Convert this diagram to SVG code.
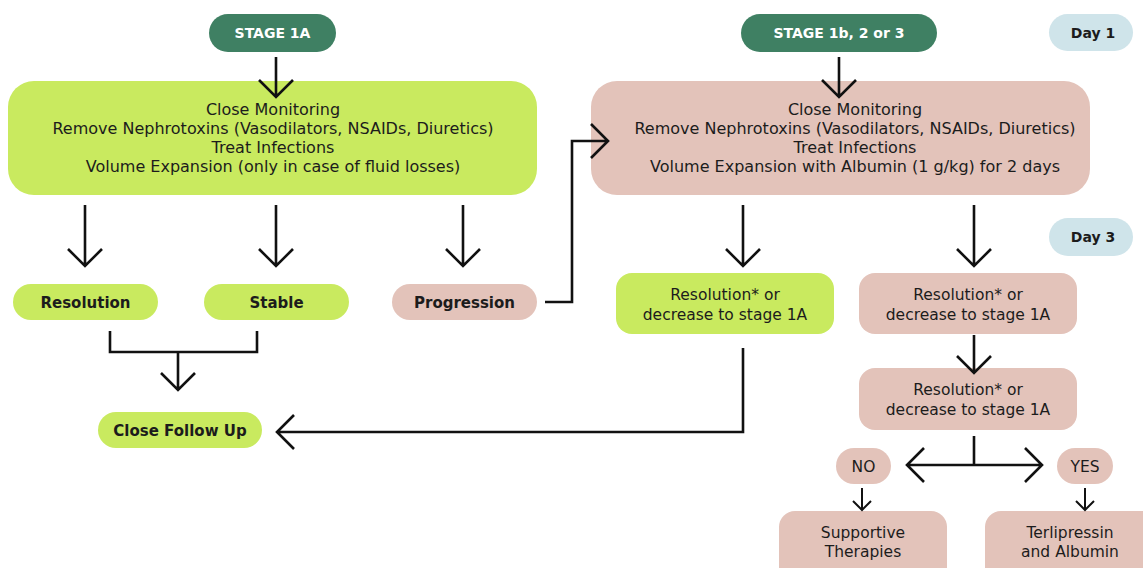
<svg xmlns="http://www.w3.org/2000/svg" width="1143" height="568" viewBox="0 0 1143 568">
<style>
.t{font-family:"DejaVu Sans","Liberation Sans",sans-serif;font-size:15.5px;fill:#1c1c1c;text-anchor:middle}
.m{font-size:16px}
.b{font-weight:bold;font-size:15px}
.w{fill:#ffffff;font-weight:bold;font-size:14px}
.k{font-weight:bold;font-size:14px}
.g{fill:#c9ea5f}
.p{fill:#e3c3ba}
.d{fill:#3f8063}
.l{fill:#cfe4ea}
.c{fill:none;stroke:#111;stroke-width:2.6;stroke-linejoin:miter}
</style>
<rect width="1143" height="568" fill="#ffffff"/>
<g id="stage1a"><rect class="d" x="209" y="14" width="127" height="38" rx="19"/><text class="t w" x="272.5" y="38">STAGE 1A</text></g>
<g id="stage1b"><rect class="d" x="741" y="14" width="196" height="38" rx="19"/><text class="t w" x="839" y="38">STAGE 1b, 2 or 3</text></g>
<g id="day1"><rect class="l" x="1049" y="14" width="84" height="37" rx="18.5"/><text class="t k" x="1093" y="37.5">Day 1</text></g>
<g id="day3"><rect class="l" x="1049" y="218" width="84" height="38" rx="19"/><text class="t k" x="1093" y="242">Day 3</text></g>
<g id="box1"><rect class="g" x="8" y="81" width="529" height="114" rx="26"/>
<text class="t m" x="273" y="114.5">Close Monitoring</text>
<text class="t m" x="273" y="133.5">Remove Nephrotoxins (Vasodilators, NSAIDs, Diuretics)</text>
<text class="t m" x="273" y="152.5">Treat Infections</text>
<text class="t m" x="273" y="171.5">Volume Expansion (only in case of fluid losses)</text></g>
<g id="box2"><rect class="p" x="591" y="81" width="499" height="114" rx="26"/>
<text class="t m" x="855" y="114.5">Close Monitoring</text>
<text class="t m" x="855" y="133.5">Remove Nephrotoxins (Vasodilators, NSAIDs, Diuretics)</text>
<text class="t m" x="855" y="152.5">Treat Infections</text>
<text class="t m" x="855" y="171.5">Volume Expansion with Albumin (1 g/kg) for 2 days</text></g>
<g id="resolution"><rect class="g" x="13" y="284" width="145" height="36" rx="18"/><text class="t b" x="85.5" y="307.5">Resolution</text></g>
<g id="stable"><rect class="g" x="204" y="284" width="145" height="36" rx="18"/><text class="t b" x="276.5" y="307.5">Stable</text></g>
<g id="progression"><rect class="p" x="392" y="284" width="145" height="36" rx="18"/><text class="t b" x="464.5" y="307.5">Progression</text></g>
<g id="followup"><rect class="g" x="98" y="412" width="164" height="36" rx="18"/><text class="t b" x="180" y="435.5">Close Follow Up</text></g>
<g id="resg"><rect class="g" x="616" y="273" width="218" height="61" rx="16"/><text class="t" x="725" y="299.5">Resolution* or</text><text class="t" x="725" y="319.5">decrease to stage 1A</text></g>
<g id="resp1"><rect class="p" x="859" y="273" width="218" height="61" rx="16"/><text class="t" x="968" y="299.5">Resolution* or</text><text class="t" x="968" y="319.5">decrease to stage 1A</text></g>
<g id="resp2"><rect class="p" x="859" y="368" width="218" height="62" rx="16"/><text class="t" x="968" y="394.5">Resolution* or</text><text class="t" x="968" y="414.5">decrease to stage 1A</text></g>
<g id="no"><rect class="p" x="836" y="448" width="55" height="36" rx="18"/><text class="t" x="863.5" y="471.5">NO</text></g>
<g id="yes"><rect class="p" x="1057" y="448" width="56" height="36" rx="18"/><text class="t" x="1085" y="471.5">YES</text></g>
<g id="supportive"><rect class="p" x="779" y="511" width="168" height="72" rx="16"/><text class="t" x="863" y="537.5">Supportive</text><text class="t" x="863" y="556.5">Therapies</text></g>
<g id="terli"><rect class="p" x="985" y="511" width="175" height="72" rx="16"/><text class="t" x="1070" y="537.5">Terlipressin</text><text class="t" x="1070" y="556.5">and Albumin</text></g>
<g id="connectors">
<path class="c" d="M276 57V97M259 80L276 97L293 80"/>
<path class="c" d="M839 57V97M822 80L839 97L856 80"/>
<path class="c" d="M85 205V266M68 249L85 266L102 249"/>
<path class="c" d="M276 205V266M259 249L276 266L293 249"/>
<path class="c" d="M463 205V266M446 249L463 266L480 249"/>
<path class="c" d="M743 205V266M726 249L743 266L760 249"/>
<path class="c" d="M974 205V266M957 249L974 266L991 249"/>
<path class="c" d="M545 302H572V141H608M591 124L608 141L591 158"/>
<path class="c" d="M110 331V352H257V331M178 352V390M161 373L178 390L195 373"/>
<path class="c" d="M743 348V432H277M294 415L277 432L294 449"/>
<path class="c" d="M974 335V373M957 356L974 373L991 356"/>
<path class="c" d="M974 436V465M908 465H1041M924 448L907 465L924 482M1025 448L1042 465L1025 482"/>
<path class="c" d="M862 488V510M853 501L862 510L871 501" style="stroke-width:2"/>
<path class="c" d="M1085 488V510M1076 501L1085 510L1094 501" style="stroke-width:2"/>
</g>
</svg>
